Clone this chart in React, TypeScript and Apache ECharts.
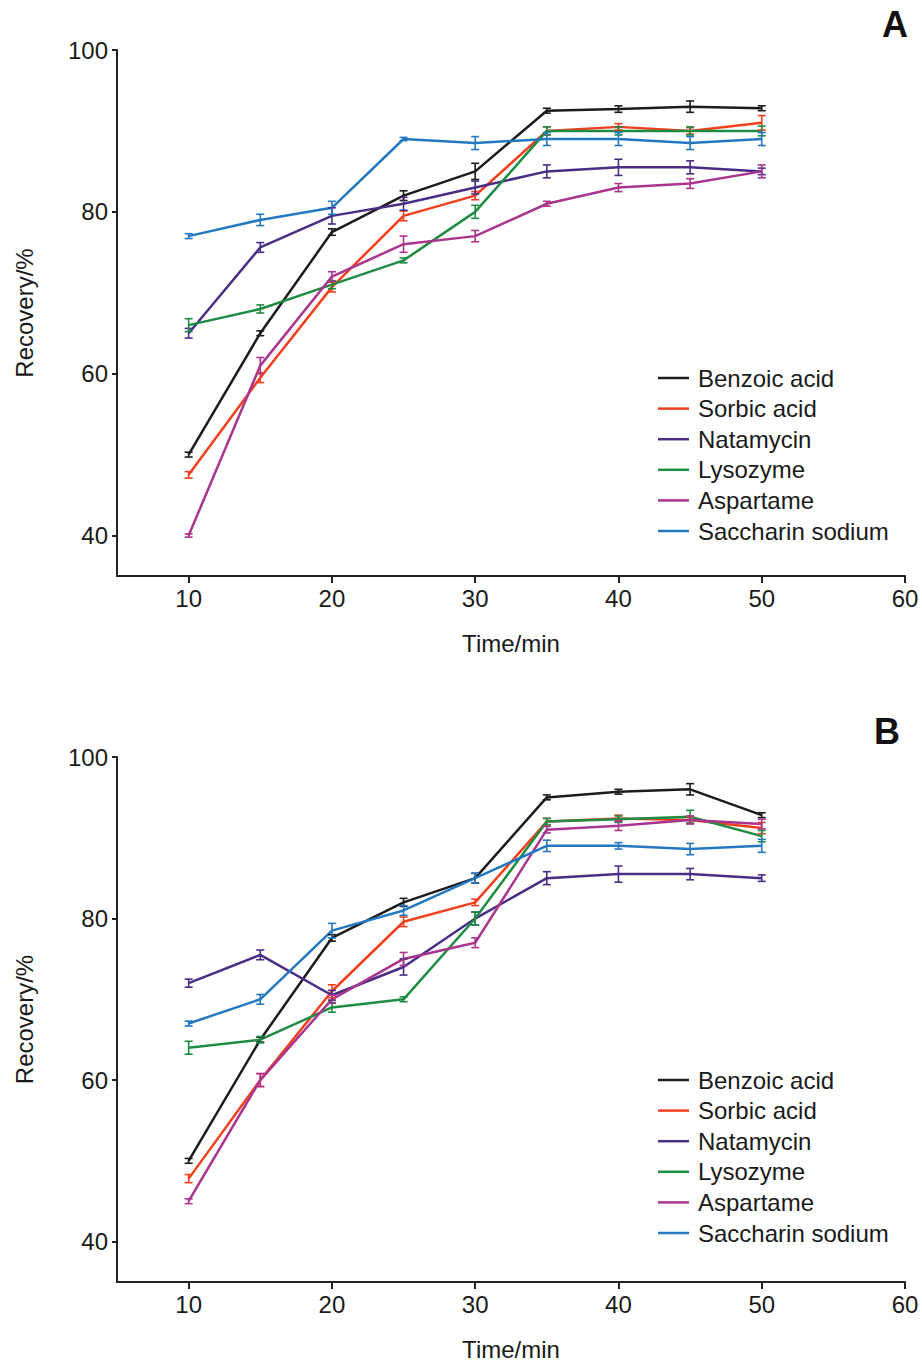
import React, { useEffect, useRef } from "react";
import * as echarts from "echarts";

const times = [10, 15, 20, 25, 30, 35, 40, 45, 50];
const xTicks = [10, 20, 30, 40, 50, 60];
const yTicks = [40, 60, 80, 100];
const seriesNames = ["Benzoic acid", "Sorbic acid", "Natamycin", "Lysozyme", "Aspartame", "Saccharin sodium"];
const colors = ["#1c1c1c", "#f2401f", "#4a2d85", "#1f8c44", "#a9358f", "#2478c2"];

// Panel A
const benzoicA = [50, 65, 77.5, 82, 85, 92.5, 92.7, 93, 92.8];
const sorbicA = [47.5, 59.5, 70.7, 79.5, 82, 90, 90.5, 90, 91];
const natamycinA = [65, 75.6, 79.5, 81, 83, 85, 85.5, 85.5, 85];
const lysozymeA = [66, 68, 71, 74, 80, 90, 90, 90, 90];
const aspartameA = [40, 61, 72, 76, 77, 81, 83, 83.5, 85];
const saccharinA = [77, 79, 80.5, 89, 88.5, 89, 89, 88.5, 89];
const errBenzoicA = [0.3, 0.3, 0.4, 0.6, 1.0, 0.3, 0.4, 0.7, 0.3];
const errSorbicA = [0.4, 0.6, 0.6, 0.6, 0.5, 0.5, 0.4, 0.4, 0.9];
const errNatamycinA = [0.6, 0.6, 1.0, 0.8, 0.8, 0.8, 1.0, 0.8, 0.4];
const errLysozymeA = [0.8, 0.5, 0.5, 0.3, 0.8, 0.5, 0.5, 0.5, 0.6];
const errAspartameA = [0.2, 1.0, 0.6, 1.0, 0.7, 0.3, 0.5, 0.6, 0.8];
const errSaccharinA = [0.3, 0.7, 0.8, 0.2, 0.8, 0.8, 0.8, 0.8, 0.8];

// Panel B
const benzoicB = [50, 65, 77.6, 82, 85, 95, 95.7, 96, 92.8];
const sorbicB = [47.8, 60, 71, 79.6, 82, 92, 92.4, 92.2, 91.2];
const natamycinB = [72, 75.5, 70.5, 74, 80, 85, 85.5, 85.5, 85];
const lysozymeB = [64, 65, 69, 70, 80, 92, 92.3, 92.6, 90.2];
const aspartameB = [45, 60, 70, 75, 77, 91, 91.5, 92.2, 91.7];
const saccharinB = [67, 70, 78.5, 81, 85, 89, 89, 88.6, 89];
const errBenzoicB = [0.3, 0.3, 0.4, 0.5, 0.6, 0.3, 0.3, 0.7, 0.3];
const errSorbicB = [0.5, 0.8, 0.8, 0.6, 0.4, 0.4, 0.4, 0.4, 0.7];
const errNatamycinB = [0.5, 0.6, 0.6, 1.0, 0.8, 0.8, 1.0, 0.7, 0.4];
const errLysozymeB = [0.8, 0.4, 0.6, 0.3, 0.8, 0.4, 0.4, 0.8, 0.7];
const errAspartameB = [0.3, 0.8, 0.5, 0.8, 0.6, 0.4, 0.6, 0.5, 0.6];
const errSaccharinB = [0.3, 0.6, 0.9, 0.6, 0.6, 0.7, 0.4, 0.7, 0.8];

const panelA = [benzoicA, sorbicA, natamycinA, lysozymeA, aspartameA, saccharinA];
const panelAErr = [errBenzoicA, errSorbicA, errNatamycinA, errLysozymeA, errAspartameA, errSaccharinA];
const panelB = [benzoicB, sorbicB, natamycinB, lysozymeB, aspartameB, saccharinB];
const panelBErr = [errBenzoicB, errSorbicB, errNatamycinB, errLysozymeB, errAspartameB, errSaccharinB];

const FONT = "Liberation Sans, Arial, sans-serif";

function makeAxes(gridIndex: number) {
  const axisLine = { show: true, lineStyle: { color: "#222", width: 2 } };
  const x = {
    type: "value",
    gridIndex,
    min: 5,
    max: 60,
    name: "Time/min",
    nameLocation: "middle",
    nameGap: 55,
    nameTextStyle: { fontSize: 24, color: "#1a1a1a", fontFamily: FONT },
    axisLine,
    axisTick: { show: true, length: 7, lineStyle: { color: "#222", width: 2 }, customValues: xTicks },
    axisLabel: { fontSize: 24, color: "#1a1a1a", fontFamily: FONT, margin: 10, customValues: xTicks },
    splitLine: { show: false },
  };
  const y = {
    type: "value",
    gridIndex,
    min: 35,
    max: 100,
    name: "Recovery/%",
    nameLocation: "middle",
    nameGap: 81,
    nameTextStyle: { fontSize: 24, color: "#1a1a1a", fontFamily: FONT },
    axisLine,
    axisTick: { show: true, length: 5, lineStyle: { color: "#222", width: 2 }, customValues: yTicks },
    axisLabel: { fontSize: 24, color: "#1a1a1a", fontFamily: FONT, margin: 9, customValues: yTicks },
    splitLine: { show: false },
  };
  return { x, y };
}

function errorRender(color: string) {
  return (params: any, api: any) => {
    const x = api.value(0);
    const lo = api.value(1);
    const hi = api.value(2);
    const p1 = api.coord([x, lo]);
    const p2 = api.coord([x, hi]);
    const w = 4;
    const style = { stroke: color, lineWidth: 1.6 };
    return {
      type: "group",
      children: [
        { type: "line", shape: { x1: p1[0], y1: p1[1], x2: p2[0], y2: p2[1] }, style },
        { type: "line", shape: { x1: p1[0] - w, y1: p1[1], x2: p1[0] + w, y2: p1[1] }, style },
        { type: "line", shape: { x1: p2[0] - w, y1: p2[1], x2: p2[0] + w, y2: p2[1] }, style },
      ],
    };
  };
}

function makeSeries(values: number[][], errs: number[][], gridIndex: number) {
  const out: any[] = [];
  values.forEach((vals, i) => {
    out.push({
      type: "line",
      name: seriesNames[i],
      xAxisIndex: gridIndex,
      yAxisIndex: gridIndex,
      data: times.map((t, k) => [t, vals[k]]),
      showSymbol: false,
      symbol: "none",
      lineStyle: { color: colors[i], width: 2.5 },
      itemStyle: { color: colors[i] },
      z: 2,
    });
    out.push({
      type: "custom",
      name: seriesNames[i],
      xAxisIndex: gridIndex,
      yAxisIndex: gridIndex,
      data: times.map((t, k) => [t, vals[k] - errs[i][k], vals[k] + errs[i][k]]),
      encode: { x: 0, y: [1, 2] },
      renderItem: errorRender(colors[i]),
      itemStyle: { color: colors[i] },
      z: 3,
    });
  });
  return out;
}

function makeLegend(top: number) {
  return {
    orient: "vertical",
    left: 653,
    top,
    itemWidth: 31,
    itemHeight: 2.5,
    itemGap: 6.6,
    icon: "rect",
    data: seriesNames.map((n, i) => ({ name: n, itemStyle: { color: colors[i] } })),
    textStyle: { fontSize: 24, lineHeight: 24, color: "#1a1a1a", fontFamily: FONT, padding: [0, 0, 0, 4] },
    selectedMode: false,
  };
}

export default function App() {
  const ref = useRef<HTMLDivElement>(null);
  useEffect(() => {
    if (!ref.current) return;
    const chart = echarts.init(ref.current, undefined, { renderer: "svg" });
    const a = makeAxes(0);
    const b = makeAxes(1);
    chart.setOption({
      animation: false,
      backgroundColor: "#ffffff",
      grid: [
        { left: 117, top: 50, width: 788, height: 526, outerBoundsMode: "none", containLabel: false },
        { left: 117, top: 757, width: 788, height: 525, outerBoundsMode: "none", containLabel: false },
      ],
      xAxis: [a.x, b.x],
      yAxis: [a.y, b.y],
      legend: [makeLegend(361), makeLegend(1063)],
      graphic: [
        { type: "text", left: 882, top: 6, style: { text: "A", fontSize: 36, fontWeight: "bold", fill: "#111", fontFamily: FONT } },
        { type: "text", left: 874, top: 713, style: { text: "B", fontSize: 36, fontWeight: "bold", fill: "#111", fontFamily: FONT } },
      ],
      series: [...makeSeries(panelA, panelAErr, 0), ...makeSeries(panelB, panelBErr, 1)],
    });
    return () => chart.dispose();
  }, []);
  return <div ref={ref} style={{ position: "absolute", left: 0, top: 0, width: 922, height: 1361 }} />;
}
